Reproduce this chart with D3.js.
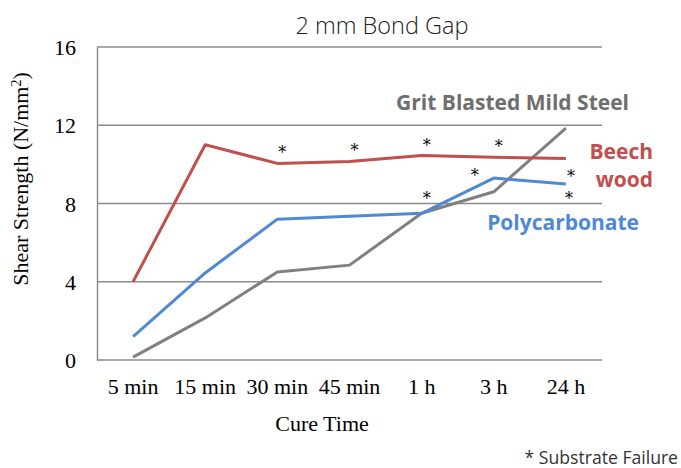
<!DOCTYPE html>
<html>
<head>
<meta charset="utf-8">
<script src="https://cdn.jsdelivr.net/npm/d3@7"></script>
<style>
  body { margin: 0; background: #fff; }
  .tick text { font-family: "Liberation Serif", serif; font-size: 22px; fill: #000; }
</style>
</head>
<body>
<div class="chart"></div>
<script>
var categories = ["5 min", "15 min", "30 min", "45 min", "1 h", "3 h", "24 h"];
var beech = [4.0, 11.0, 10.05, 10.15, 10.45, 10.37, 10.3];
var polycarbonate = [1.2, 4.45, 7.2, 7.35, 7.5, 9.3, 9.0];
var steel = [0.15, 2.15, 4.5, 4.85, 7.5, 8.6, 11.85];
var yTicks = [0, 4, 8, 12, 16];

// substrate failure marks: which series, which point
var failures = [
  { s: "beech", i: 2, dx: 5, dy: -14 },
  { s: "beech", i: 3, dx: 5, dy: -14 },
  { s: "beech", i: 4, dx: 5, dy: -14 },
  { s: "beech", i: 5, dx: 5, dy: -14 },
  { s: "beech", i: 6, dx: 5, dy: 14 },
  { s: "poly", i: 4, dx: 5, dy: -18 },
  { s: "poly", i: 5, dx: -19, dy: -6 },
  { s: "poly", i: 6, dx: 3, dy: 11 }
];

var width = 681, height = 468;
var margin = { top: 47, right: 79, bottom: 108, left: 97 };

var svg = d3.select(".chart").append("svg")
  .attr("width", width)
  .attr("height", height);

var x = d3.scaleBand().domain(categories)
  .range([margin.left, width - margin.right]);
var y = d3.scaleLinear().domain([0, 16])
  .range([height - margin.bottom, margin.top]);

// gridlines
svg.append("g").selectAll("line").data(yTicks).enter().append("line")
  .attr("x1", margin.left).attr("x2", width - margin.right)
  .attr("y1", function (d) { return y(d); })
  .attr("y2", function (d) { return y(d); })
  .attr("stroke", "#8c8c8c").attr("stroke-width", 1.5);

// y axis
var yAxis = svg.append("g")
  .attr("transform", "translate(" + margin.left + ",0)")
  .call(d3.axisLeft(y).tickValues(yTicks).tickSize(0).tickPadding(21));
yAxis.select(".domain").attr("stroke", "#8c8c8c").attr("stroke-width", 1.5);
yAxis.selectAll(".tick text").attr("dy", "0.35em");

// x axis
var xAxis = svg.append("g")
  .attr("transform", "translate(0," + y(0) + ")")
  .call(d3.axisBottom(x).tickSize(0).tickPadding(18));
xAxis.select(".domain").remove();

var line = d3.line()
  .x(function (d, i) { return x(categories[i]) + x.bandwidth() / 2; })
  .y(function (d) { return y(d); });

var series = [
  { key: "steel", values: steel, color: "#808080" },
  { key: "poly", values: polycarbonate, color: "#4f89d4" },
  { key: "beech", values: beech, color: "#c0504d" }
];

series.forEach(function (s) {
  svg.append("path")
    .datum(s.values)
    .attr("d", line)
    .attr("fill", "none")
    .attr("stroke", s.color)
    .attr("stroke-width", 3)
    .attr("stroke-linejoin", "round");
});

var lookup = { beech: beech, poly: polycarbonate };
svg.append("g").selectAll("text").data(failures).enter().append("text")
  .attr("x", function (d) { return x(categories[d.i]) + x.bandwidth() / 2 + d.dx; })
  .attr("y", function (d) { return y(lookup[d.s][d.i]) + d.dy + 9; })
  .attr("text-anchor", "middle")
  .attr("font-family", "DejaVu Serif, serif")
  .attr("font-size", 16)
  .attr("fill", "#000")
  .text("*");

// title
svg.append("text")
  .attr("x", 382).attr("y", 34)
  .attr("text-anchor", "middle")
  .attr("font-family", "Open Sans")
  .attr("font-weight", 300)
  .attr("font-size", 23.5)
  .attr("fill", "#222")
  .text("2 mm Bond Gap");

// series labels
var labelFont = "Open Sans";
svg.append("text")
  .attr("x", 629).attr("y", 110)
  .attr("text-anchor", "end")
  .attr("font-family", labelFont).attr("font-weight", "bold").attr("font-size", 21)
  .attr("fill", "#6e6e6e")
  .text("Grit Blasted Mild Steel");
svg.append("text")
  .attr("x", 653).attr("y", 159)
  .attr("text-anchor", "end")
  .attr("font-family", labelFont).attr("font-weight", "bold").attr("font-size", 21)
  .attr("fill", "#c0504d")
  .text("Beech");
svg.append("text")
  .attr("x", 653).attr("y", 187)
  .attr("text-anchor", "end")
  .attr("font-family", labelFont).attr("font-weight", "bold").attr("font-size", 21)
  .attr("fill", "#c0504d")
  .text("wood");
svg.append("text")
  .attr("x", 639).attr("y", 230)
  .attr("text-anchor", "end")
  .attr("font-family", labelFont).attr("font-weight", "bold").attr("font-size", 21)
  .attr("fill", "#4f89d4")
  .text("Polycarbonate");

// axis titles
svg.append("text")
  .attr("transform", "translate(28,179) rotate(-90)")
  .attr("text-anchor", "middle")
  .attr("font-family", "Liberation Serif, serif")
  .attr("font-size", 22)
  .attr("fill", "#000")
  .html("Shear Strength (N/mm<tspan baseline-shift='super' font-size='14'>2</tspan>)");

svg.append("text")
  .attr("x", 322).attr("y", 431)
  .attr("text-anchor", "middle")
  .attr("font-family", "Liberation Serif, serif")
  .attr("font-size", 22)
  .attr("fill", "#000")
  .text("Cure Time");

svg.append("text")
  .attr("x", 678).attr("y", 464)
  .attr("text-anchor", "end")
  .attr("font-family", "Open Sans")
  .attr("font-size", 17.6)
  .attr("fill", "#333")
  .text("* Substrate Failure");
</script>
</body>
</html>
